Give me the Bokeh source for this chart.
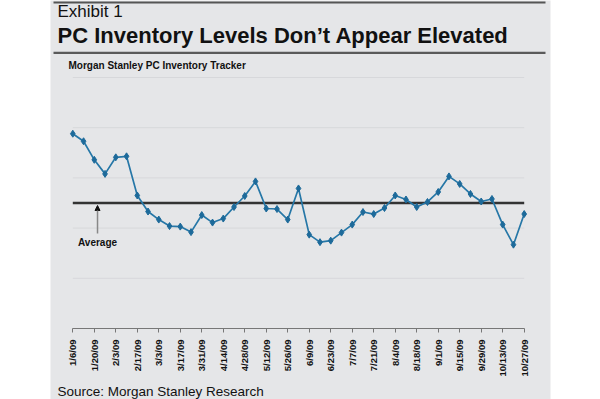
from bokeh.plotting import figure
from bokeh.models import (Range1d, FixedTicker, Label, BoxAnnotation,
                          Arrow, NormalHead, LinearAxis)
from bokeh.embed import file_html
from bokeh.resources import INLINE

# ---------------- data ----------------
dates = ["1/6/09", "1/13/09", "1/20/09", "1/27/09", "2/3/09", "2/10/09", "2/17/09",
         "2/24/09", "3/3/09", "3/10/09", "3/17/09", "3/24/09", "3/31/09", "4/7/09",
         "4/14/09", "4/21/09", "4/28/09", "5/5/09", "5/12/09", "5/19/09", "5/26/09",
         "6/2/09", "6/9/09", "6/16/09", "6/23/09", "6/30/09", "7/7/09", "7/14/09",
         "7/21/09", "7/28/09", "8/4/09", "8/11/09", "8/18/09", "8/25/09", "9/1/09",
         "9/8/09", "9/15/09", "9/22/09", "9/29/09", "10/6/09", "10/13/09",
         "10/20/09", "10/27/09"]
inventory = [3.88, 3.73, 3.36, 3.08, 3.41, 3.43, 2.65, 2.33, 2.17, 2.04, 2.03,
             1.92, 2.26, 2.11, 2.19, 2.42, 2.64, 2.93, 2.39, 2.38, 2.17, 2.79,
             1.87, 1.72, 1.75, 1.91, 2.07, 2.32, 2.28, 2.40, 2.65, 2.57, 2.42,
             2.52, 2.72, 3.03, 2.88, 2.68, 2.53, 2.58, 2.07, 1.67, 2.28]
average_level = 2.5
grid_levels = [1, 2, 3, 4, 5]
label_every = 2

positions = list(range(len(dates)))
tick_positions = positions[::label_every]

# ---------------- layout (pixels) ----------------
W, H = 600, 399
PLOT_LEFT, PLOT_RIGHT = 72.3, 523.7    # pixel position of first / last week
PLOT_TOP, PLOT_BOTTOM = 77, 328        # pixel position of top gridline / axis
Y_MIN, Y_MAX = 0, 5
n = len(dates) - 1
kx = (PLOT_RIGHT - PLOT_LEFT) / n
ky = (PLOT_BOTTOM - PLOT_TOP) / (Y_MAX - Y_MIN)

BG = "#e5e6e8"
LINE = "#2677a7"
FONT = "Liberation Sans"

p = figure(width=W, height=H, output_backend="svg", toolbar_location=None,
           x_axis_location=None, y_axis_location=None,
           min_border=0, min_border_left=0, min_border_right=0,
           min_border_top=0, min_border_bottom=0)
p.x_range = Range1d(-PLOT_LEFT / kx, n + (W - PLOT_RIGHT) / kx)
p.y_range = Range1d(Y_MIN - (H - PLOT_BOTTOM) / ky, Y_MAX + PLOT_TOP / ky)
p.background_fill_color = "white"
p.border_fill_color = "white"
p.outline_line_color = None
for g in p.grid:
    g.visible = False

def sbox(left, right, bottom, top, color, level):
    p.add_layout(BoxAnnotation(left=left, right=right, bottom=bottom, top=top,
                               left_units="screen", right_units="screen",
                               bottom_units="screen", top_units="screen",
                               fill_color=color, fill_alpha=1.0, line_color=None,
                               level=level))

# grey panel and header rules (screen units from the bottom-left corner)
sbox(50, 550, -10, H + 10, BG, "image")
sbox(53, 545, H - 3, H - 1, "#555555", "overlay")
sbox(53, 545, H - 53.5, H - 51.3, "#5a5a5a", "overlay")

# horizontal gridlines, limited to the data span
p.segment(x0=[positions[0]] * len(grid_levels), x1=[positions[-1]] * len(grid_levels),
          y0=grid_levels, y1=grid_levels, line_color="#d7d8db", line_width=1)

# x axis at y = 0
ax = LinearAxis(fixed_location=Y_MIN, bounds=(positions[0], positions[-1]))
ax.ticker = FixedTicker(ticks=tick_positions)
ax.major_label_overrides = {i: dates[i] for i in tick_positions}
ax.major_label_orientation = 1.5707963
ax.major_label_text_font = FONT
ax.major_label_text_font_style = "bold"
ax.major_label_text_font_size = "9.5px"
ax.major_label_text_color = "#111111"
ax.major_label_standoff = 7
ax.axis_line_color = "#777777"
ax.major_tick_line_color = "#777777"
ax.major_tick_out = 4
ax.major_tick_in = 0
ax.minor_tick_line_color = None
p.add_layout(ax, "below")

# average line
p.segment(x0=[positions[0]], x1=[positions[-1]], y0=[average_level], y1=[average_level],
          line_color="#333333", line_width=2.5)

# data
p.line(positions, inventory, line_color=LINE, line_width=1.7)
p.scatter(positions, inventory, marker="diamond", size=7,
          fill_color="#1d6a9a", line_color="#1d6a9a")

# average annotation
p.add_layout(Arrow(end=NormalHead(size=5, fill_color="#111111", line_color="#111111"),
                   x_start=2.3, y_start=1.89, x_end=2.3, y_end=2.45,
                   line_color="#888888", line_width=1.5))
p.add_layout(Label(x=2.3, y=1.72, text="Average", text_align="center",
                   text_baseline="alphabetic", text_font=FONT,
                   text_font_style="bold", text_font_size="10px",
                   text_color="#111111"))

def add_text(x, y, text, size, bold=False):
    p.add_layout(Label(x=x, y=y, x_units="screen", y_units="screen", text=text,
                       text_font=FONT, text_font_size=size,
                       text_font_style="bold" if bold else "normal",
                       text_baseline="alphabetic", text_color="#111111",
                       level="overlay"))

add_text(57, H - 11, "Exhibit 1", "17px")
add_text(57, H - 35, "PC Inventory Levels Don\u2019t Appear Elevated", "22px", bold=True)
add_text(68, H - 65, "Morgan Stanley PC Inventory Tracker", "10px", bold=True)
add_text(57, 8, "Source: Morgan Stanley Research", "13.5px")

open("out.html", "w").write(file_html(p, INLINE))
